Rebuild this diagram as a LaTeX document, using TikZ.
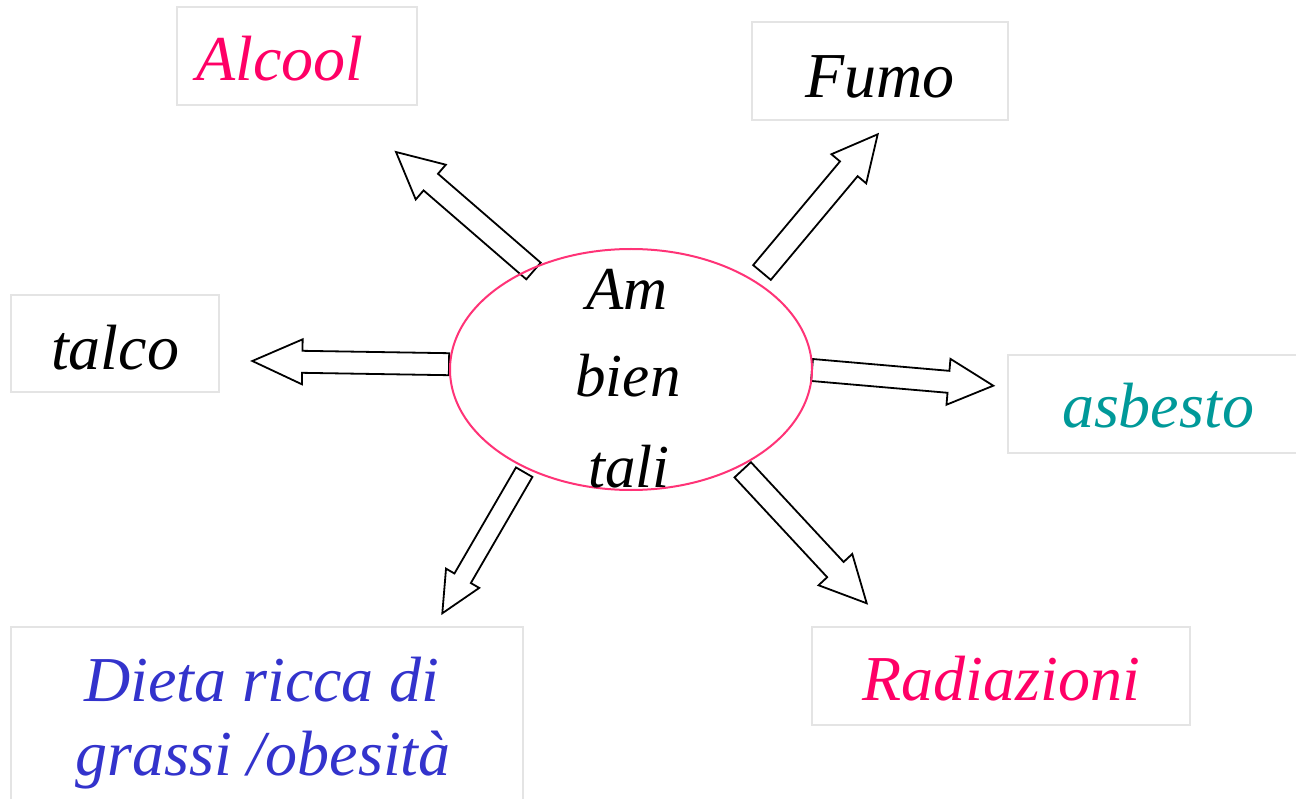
\documentclass[tikz,border=0pt]{standalone}
\usepackage{fontspec}
\setmainfont{Liberation Serif}
\usetikzlibrary{calc}
\definecolor{boxgray}{HTML}{E4E4E4}
\definecolor{hotpink}{HTML}{FF0066}
\definecolor{ellpink}{HTML}{FF3377}
\definecolor{tealc}{HTML}{009999}
\definecolor{bluec}{HTML}{3333CC}
\newcommand\blockarr[5]{%
  \coordinate (hb) at ($(#2)!#4pt!(#1)$);
  \draw[blockarrow] ($(#1)!#3pt!90:(#2)$) -- ($(hb)!#3pt!90:(#2)$) -- ($(hb)!#5pt!90:(#2)$)
    -- (#2) -- ($(hb)!#5pt!-90:(#2)$) -- ($(hb)!#3pt!-90:(#2)$) -- ($(#1)!#3pt!-90:(#2)$) -- cycle;
}
\begin{document}
\begin{tikzpicture}[x=1pt,y=-1pt,
  box/.style={draw=boxgray,line width=2pt,rectangle,inner sep=0pt},
  lbl/.style={font=\fontsize{64}{74}\selectfont\itshape,anchor=base,inner sep=0pt},
  ctr/.style={font=\fontsize{61}{88}\selectfont\itshape,anchor=base,inner sep=0pt},
  blockarrow/.style={draw=black,fill=white,line width=1.8pt,miter limit=20},
]
\useasboundingbox (0,0) rectangle (1296,799);
\fill[white] (0,0) rectangle (1296,799);
% boxes
\node[box,minimum width=240pt,minimum height=98pt] (alcoolbox) at (297,56) {};
\node[box,minimum width=256pt,minimum height=98pt] (fumobox) at (880,71) {};
\node[box,minimum width=208pt,minimum height=97pt] (talcobox) at (115,343.5) {};
\node[box,minimum width=294pt,minimum height=98pt] (asbestobox) at (1155,404) {};
\node[box,minimum width=512pt,minimum height=180pt] (dietabox) at (267,717) {};
\node[box,minimum width=378pt,minimum height=98pt] (radbox) at (1001,676) {};
% labels
\node[lbl,text=hotpink] (alcool) at (280,81) {Alcool};
\node[lbl,text=black] (fumo) at (880,98) {Fumo};
\node[lbl,text=black] (talco) at (115,370) {talco};
\node[lbl,text=tealc] (asbesto) at (1158,428) {asbesto};
\node[lbl,text=bluec] (dieta1) at (262,701) {Dieta ricca di};
\node[lbl,text=bluec] (dieta2) at (263,775) {grassi /obesità};
\node[lbl,text=hotpink] (rad) at (1001.5,700) {Radiazioni};
% arrow endpoints
\coordinate (t1) at (533.5,271);   \coordinate (p1) at (396,152);
\coordinate (t2) at (762,272.5);   \coordinate (p2) at (877.7,134.3);
\coordinate (t3) at (449,364.2);   \coordinate (p3) at (252.3,361);
\coordinate (t4) at (812,370);     \coordinate (p4) at (993.3,385.7);
\coordinate (t5) at (524.2,472.2); \coordinate (p5) at (442.3,613.3);
\coordinate (t6) at (742.7,469.8); \coordinate (p6) at (866.7,603.3);
\blockarr{t1}{p1}{11}{46}{23}
\blockarr{t2}{p2}{11.5}{45}{22.7}
\blockarr{t3}{p3}{11}{50}{22.5}
\blockarr{t4}{p4}{11}{45}{23}
\blockarr{t5}{p5}{9.5}{40.5}{19.2}
\blockarr{t6}{p6}{11.2}{46}{23}
% central ellipse
\draw[ellpink,line width=2pt] (631,369.5) ellipse [x radius=181,y radius=120.5];
\node[inner sep=0pt] (centre) at (631,369.5) {};
\node[ctr] (am) at (627,310) {Am};
\node[ctr] (bien) at (628,397) {bien};
\node[ctr] (tali) at (629,487) {tali};
\end{tikzpicture}
\end{document}
